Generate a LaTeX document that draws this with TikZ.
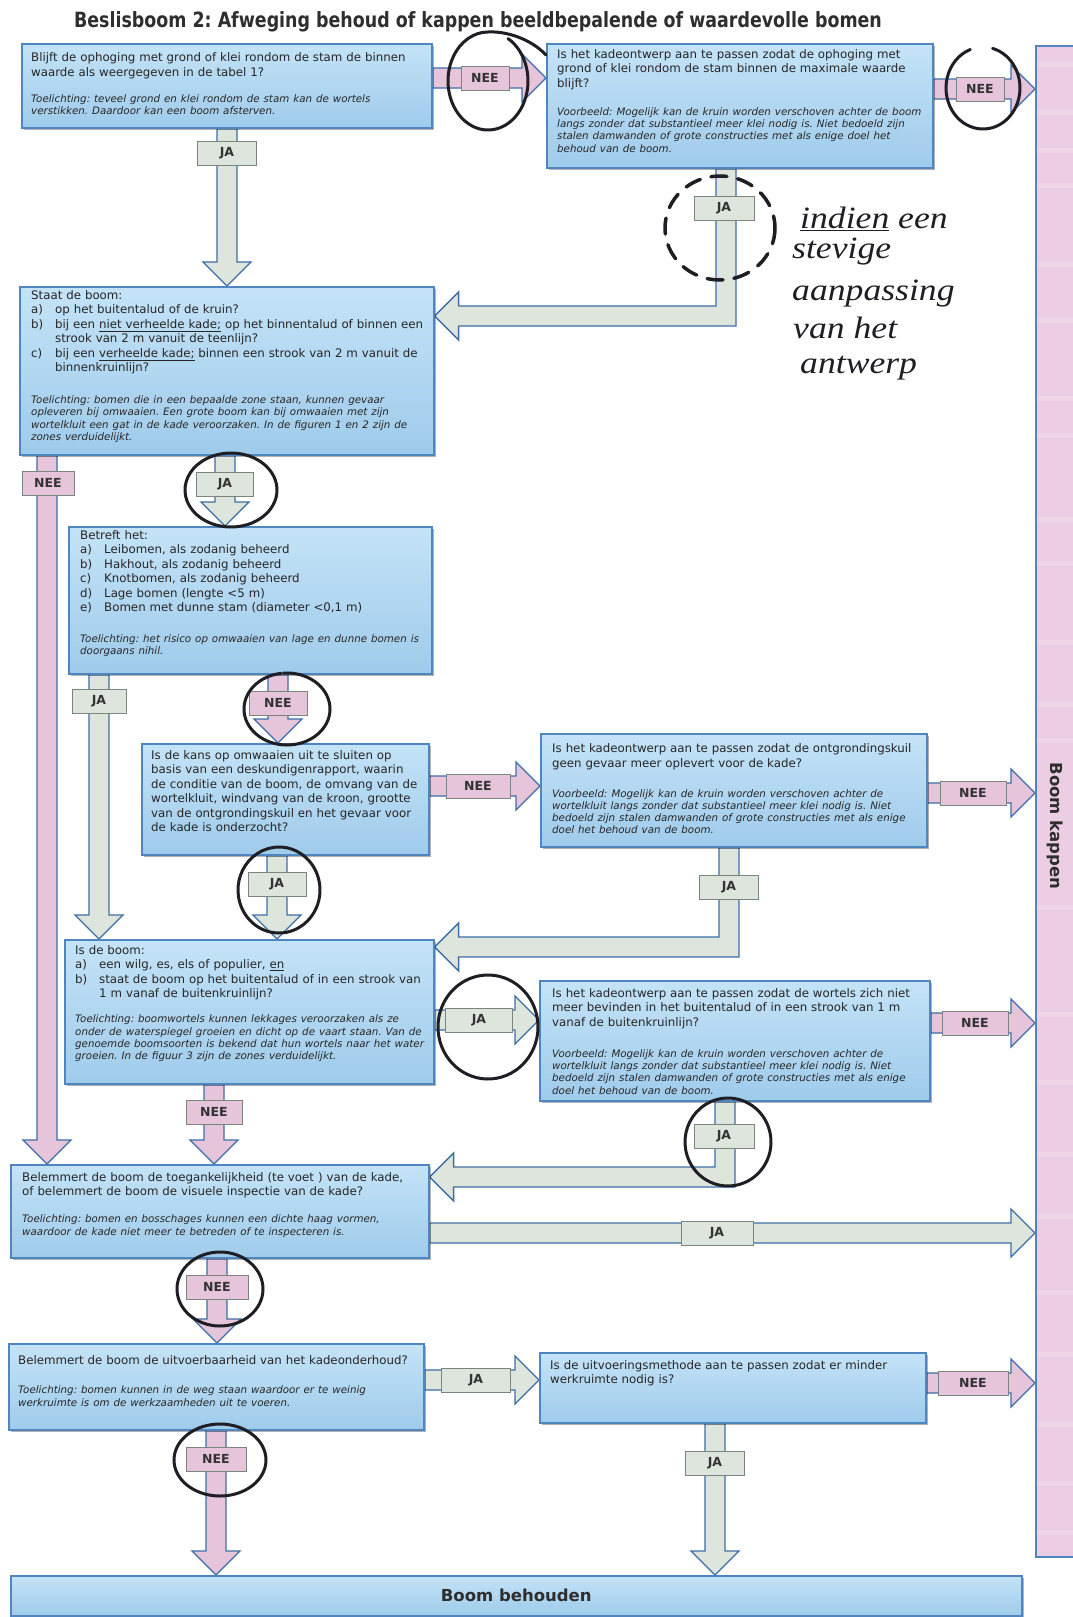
\documentclass[tikz,border=0pt]{standalone}
\usepackage{fontspec}
\setmainfont{DejaVu Sans}
\newfontfamily\titlefont[FakeStretch=0.83]{DejaVu Sans}
\newfontfamily\handfont[FakeStretch=1.15]{Liberation Serif}
\usetikzlibrary{calc,shadows}
\pgfdeclarelayer{paper}
\pgfdeclarelayer{arrows}
\pgfsetlayers{paper,arrows,main}
\frenchspacing

\definecolor{boxtop}{HTML}{C4E3F7}
\definecolor{boxbot}{HTML}{9FCBEB}
\definecolor{boxline}{HTML}{4F86C0}
\definecolor{arrline}{HTML}{3E6EA8}
\definecolor{jafill}{HTML}{DDE5DD}
\definecolor{neefill}{HTML}{E6C4DA}
\definecolor{labline}{HTML}{7A857E}
\definecolor{barfill}{HTML}{EBCDE4}
\definecolor{pencol}{HTML}{1E1E24}

\def\aSW{10pt}\def\aHW{24pt}\def\aHL{24pt}

\newcommand{\toel}[1]{{\fontsize{10.3}{12.3}\selectfont\itshape #1\par}}
\newcommand{\itm}[1]{\makebox[24pt][l]{#1}}
\newcommand{\ind}{\hspace*{24pt}}

\tikzset{
 qb/.style={draw=boxline, line width=1.6pt, top color=boxtop, bottom color=boxbot,
   drop shadow={shadow xshift=2.5pt, shadow yshift=-2.5pt, opacity=0.3, fill=black}, inner sep=0pt},
 qt/.style={inner sep=0pt, align=left, text width=480pt, font=\fontsize{11.8}{14.4}\selectfont, anchor=north west, text=black!85},
 arrbody/.style={draw=arrline, line width=1.3pt, line join=miter},
 lab/.style={draw=labline, line width=0.9pt, inner sep=0pt, minimum height=24pt,
   font=\bfseries\fontsize{12.5}{14}\selectfont, text=black!80},
 jal/.style={lab, fill=jafill, minimum width=#1},
 neel/.style={lab, fill=neefill, minimum width=#1},
 handpen/.style={draw=pencol, line width=3pt, line cap=round},
 handtxt/.style={font=\handfont\itshape\fontsize{31}{34}\selectfont, text=pencol, inner sep=0pt, anchor=base west},
}

% box: name, x, y, w, h, dx, dy, content
\newcommand{\qbox}[8]{%
 \node[qb, minimum width=#4, minimum height=#5, anchor=north west] (#1) at (#2,#3) {};
 \node[qt] (#1t) at ([shift={(#6,#7)}]#1.north west) {#8};}

% down arrow: x, from, to, fill
\newcommand{\downarr}[4]{%
 \path[arrbody, fill=#4] let \p1=(#2.south), \p2=(#3.north), \p3=(#1,0) in
  (\x3-\aSW,\y1) -- (\x3-\aSW,\y2+\aHL) -- (\x3-\aHW,\y2+\aHL) -- (\x3,\y2) --
  (\x3+\aHW,\y2+\aHL) -- (\x3+\aSW,\y2+\aHL) -- (\x3+\aSW,\y1) -- cycle;}
% right arrow: y, from, to, fill
\newcommand{\rightarr}[4]{%
 \path[arrbody, fill=#4] let \p1=(#2.east), \p2=(#3.west), \p3=(0,#1) in
  (\x1,\y3+\aSW) -- (\x2-\aHL,\y3+\aSW) -- (\x2-\aHL,\y3+\aHW) -- (\x2,\y3) --
  (\x2-\aHL,\y3-\aHW) -- (\x2-\aHL,\y3-\aSW) -- (\x1,\y3-\aSW) -- cycle;}
% elbow arrow: x, y, from, to, fill
\newcommand{\elbowarr}[5]{%
 \path[arrbody, fill=#5] let \p1=(#3.south), \p2=(#4.east), \p3=(#1,#2) in
  (\x3+\aSW,\y1) -- (\x3+\aSW,\y3-\aSW) -- (\x2+\aHL,\y3-\aSW) -- (\x2+\aHL,\y3-\aHW) --
  (\x2,\y3) -- (\x2+\aHL,\y3+\aHW) -- (\x2+\aHL,\y3+\aSW) -- (\x3-\aSW,\y3+\aSW) --
  (\x3-\aSW,\y1) -- cycle;}
% hand ring: cx, cy, rx, ry, start, end
\newcommand{\ring}[6]{\draw[handpen] (#1,#2) ++(#5:#3 and #4) arc[start angle=#5, end angle=#6, x radius=#3, y radius=#4];}

\begin{document}
\begin{tikzpicture}[x=1pt,y=-1pt]
\useasboundingbox (0,0) rectangle (1073,1617);
\begin{pgfonlayer}{paper}
\fill[white] (0,0) rectangle (1073,1617);
\end{pgfonlayer}

% title
\node[font=\titlefont\bfseries\fontsize{21}{24}\selectfont, text=black!82] (title) at (478,22)
  {Beslisboom 2: Afweging behoud of kappen beeldbepalende of waardevolle bomen};

% right bar
\node[draw=boxline, line width=1.5pt, fill=barfill, minimum width=44, minimum height=1511,
  anchor=north west, inner sep=0pt] (kap) at (1035,45) {};
\foreach \yy in {62,110,148,183,262,318,396,433,517,561,640,702,738,905,1012,1080,1152,1214,1290,1352,1422,1481,1530}
  \fill[white, opacity=0.18] (1037,\yy) rectangle (1073,\yy+5);
\node[rotate=-90, font=\bfseries\fontsize{16.5}{18}\selectfont, text=black!82] (kapt) at (1055,826) {Boom kappen};

% boxes
\qbox{b1}{21}{43}{410}{84}{10}{9.5}{%
Blijft de ophoging met grond of klei rondom de stam de binnen\\
waarde als weergegeven in de tabel 1?\par\vspace{13.7pt}
\toel{Toelichting: teveel grond en klei rondom de stam kan de wortels\\
verstikken. Daardoor kan een boom afsterven.}}

\qbox{b2}{546}{43}{386}{124}{11}{6.4}{%
Is het kadeontwerp aan te passen zodat de ophoging met\\
grond of klei rondom de stam binnen de maximale waarde\\
blijft?\par\vspace{15.7pt}
\toel{Voorbeeld: Mogelijk kan de kruin worden verschoven achter de boom\\
langs zonder dat substantieel meer klei nodig is. Niet bedoeld zijn\\
stalen damwanden of grote constructies met als enige doel het\\
behoud van de boom.}}

\qbox{b3}{19}{286}{414}{168}{12}{4.3}{%
Staat de boom:\\
\itm{a)}op het buitentalud of de kruin?\\
\itm{b)}bij een \underline{niet verheelde kade;} op het binnentalud of binnen een\\
\ind strook van 2 m vanuit de teenlijn?\\
\itm{c)}bij een \underline{verheelde kade;} binnen een strook van 2 m vanuit de\\
\ind binnenkruinlijn?\par\vspace{19.7pt}
\toel{Toelichting: bomen die in een bepaalde zone staan, kunnen gevaar\\
opleveren bij omwaaien. Een grote boom kan bij omwaaien met zijn\\
wortelkluit een gat in de kade veroorzaken. In de figuren 1 en 2 zijn de\\
zones verduidelijkt.}}

\qbox{b4}{68}{526}{363}{147}{12}{4.3}{%
Betreft het:\\
\itm{a)}Leibomen, als zodanig beheerd\\
\itm{b)}Hakhout, als zodanig beheerd\\
\itm{c)}Knotbomen, als zodanig beheerd\\
\itm{d)}Lage bomen (lengte <5 m)\\
\itm{e)}Bomen met dunne stam (diameter <0,1 m)\par\vspace{18.7pt}
\toel{Toelichting: het risico op omwaaien van lage en dunne bomen is\\
doorgaans nihil.}}

\qbox{b5}{141}{743}{287}{111}{10}{7.4}{%
Is de kans op omwaaien uit te sluiten op\\
basis van een deskundigenrapport, waarin\\
de conditie van de boom, de omvang van de\\
wortelkluit, windvang van de kroon, grootte\\
van de ontgrondingskuil en het gevaar voor\\
de kade is onderzocht?}

\qbox{b5r}{540}{733}{386}{113}{12}{10.5}{%
Is het kadeontwerp aan te passen zodat de ontgrondingskuil\\
geen gevaar meer oplevert voor de kade?\par\vspace{17.7pt}
\toel{Voorbeeld: Mogelijk kan de kruin worden verschoven achter de\\
wortelkluit langs zonder dat substantieel meer klei nodig is. Niet\\
bedoeld zijn stalen damwanden of grote constructies met als enige\\
doel het behoud van de boom.}}

\qbox{b6}{64}{939}{369}{144}{11}{6.4}{%
Is de boom:\\
\itm{a)}een wilg, es, els of populier, \underline{en}\\
\itm{b)}staat de boom op het buitentalud of in een strook van\\
\ind 1 m vanaf de buitenkruinlijn?\par\vspace{12.7pt}
\toel{Toelichting: boomwortels kunnen lekkages veroorzaken als ze\\
onder de waterspiegel groeien en dicht op de vaart staan. Van de\\
genoemde boomsoorten is bekend dat hun wortels naar het water\\
groeien. In de figuur 3 zijn de zones verduidelijkt.}}

\qbox{b6r}{539}{980}{390}{120}{13}{8.4}{%
Is het kadeontwerp aan te passen zodat de wortels zich niet\\
meer bevinden in het buitentalud of in een strook van 1 m\\
vanaf de buitenkruinlijn?\par\vspace{18.7pt}
\toel{Voorbeeld: Mogelijk kan de kruin worden verschoven achter de\\
wortelkluit langs zonder dat substantieel meer klei nodig is. Niet\\
bedoeld zijn stalen damwanden of grote constructies met als enige\\
doel het behoud van de boom.}}

\qbox{b7}{10}{1164}{418}{93}{12}{8.4}{%
Belemmert de boom de toegankelijkheid (te voet ) van de kade,\\
of belemmert de boom de visuele inspectie van de kade?\par\vspace{14.7pt}
\toel{Toelichting: bomen en bosschages kunnen een dichte haag vormen,\\
waardoor de kade niet meer te betreden of te inspecteren is.}}

\qbox{b8}{8}{1343}{415}{86}{10}{12.6}{%
Belemmert de boom de uitvoerbaarheid van het kadeonderhoud?\par\vspace{16.7pt}
\toel{Toelichting: bomen kunnen in de weg staan waardoor er te weinig\\
werkruimte is om de werkzaamheden uit te voeren.}}

\qbox{b8r}{539}{1352}{386}{70}{11}{8.4}{%
Is de uitvoeringsmethode aan te passen zodat er minder\\
werkruimte nodig is?}

\node[qb, minimum width=1011, minimum height=40, anchor=north west,
  font=\bfseries\fontsize{16.5}{18}\selectfont, text=black!82] (beh) at (10,1575) {Boom behouden};

% arrows
\begin{pgfonlayer}{arrows}
\rightarr{78}{b1}{b2}{neefill}
\rightarr{89}{b2}{kap}{neefill}
\downarr{227}{b1}{b3}{jafill}
\elbowarr{726}{316}{b2}{b3}{jafill}
\downarr{47}{b3}{b7}{neefill}
\downarr{225}{b3}{b4}{jafill}
\downarr{99}{b4}{b6}{jafill}
\downarr{278}{b4}{b5}{neefill}
\rightarr{786}{b5}{b5r}{neefill}
\rightarr{793}{b5r}{kap}{neefill}
\downarr{277}{b5}{b6}{jafill}
\elbowarr{729}{947}{b5r}{b6}{jafill}
\rightarr{1020}{b6}{b6r}{jafill}
\rightarr{1023}{b6r}{kap}{neefill}
\downarr{214}{b6}{b7}{neefill}
\elbowarr{725}{1177}{b6r}{b7}{jafill}
\rightarr{1233}{b7}{kap}{jafill}
\downarr{217}{b7}{b8}{neefill}
\rightarr{1380}{b8}{b8r}{jafill}
\rightarr{1383}{b8r}{kap}{neefill}
\downarr{216}{b8}{beh}{neefill}
\downarr{715}{b8r}{beh}{jafill}
\end{pgfonlayer}

% labels
\node[neel=48] (l1) at (485,78) {NEE};
\node[neel=48] (l2) at (980,89) {NEE};
\node[jal=59] (l3) at (227,153) {JA};
\node[jal=60] (l4) at (724,208) {JA};
\node[neel=52] (l5) at (48,483) {NEE};
\node[jal=57] (l6) at (225,484) {JA};
\node[jal=54] (l7) at (99,701) {JA};
\node[neel=58] (l8) at (278,703) {NEE};
\node[neel=64] (l9) at (478,786) {NEE};
\node[neel=66] (l10) at (973,793) {NEE};
\node[jal=58] (l11) at (277,884) {JA};
\node[jal=59] (l12) at (729,887) {JA};
\node[jal=67] (l13) at (479,1020) {JA};
\node[neel=66] (l14) at (975,1023) {NEE};
\node[neel=56] (l15) at (214,1112) {NEE};
\node[jal=60] (l16) at (724,1136) {JA};
\node[jal=72] (l17) at (717,1233) {JA};
\node[neel=62] (l18) at (217,1287) {NEE};
\node[jal=69] (l19) at (476,1380) {JA};
\node[neel=70] (l20) at (973,1383) {NEE};
\node[neel=60] (l21) at (216,1459) {NEE};
\node[jal=59] (l22) at (715,1463) {JA};

% hand-drawn rings
\draw[handpen] (488,81) ++(-60:40 and 49) arc[start angle=-60, end angle=270, x radius=40, y radius=49]
   .. controls (505,31) and (530,38) .. (546,55);
\ring{983}{88}{37}{41}{-75}{250}
\draw[handpen, line width=3.5pt, dash pattern=on 16pt off 11pt] (720,228) ellipse[x radius=55, y radius=52];
\ring{231}{490}{46}{37}{-100}{265}
\ring{287}{709}{43}{36}{-95}{262}
\ring{279}{890}{41}{43}{-100}{262}
\ring{488}{1027}{50}{52}{-100}{265}
\ring{728}{1142}{43}{44}{-100}{262}
\ring{220}{1289}{43}{37}{-95}{265}
\ring{220}{1460}{46}{36}{-95}{265}

% handwriting
\node[handtxt] (h1) at (800,228) {\underline{indien} een};
\node[handtxt] (h2) at (792,258) {stevige};
\node[handtxt] (h3) at (792,300) {aanpassing};
\node[handtxt] (h4) at (793,338) {van het};
\node[handtxt] (h5) at (800,373) {antwerp};
\end{tikzpicture}
\end{document}
